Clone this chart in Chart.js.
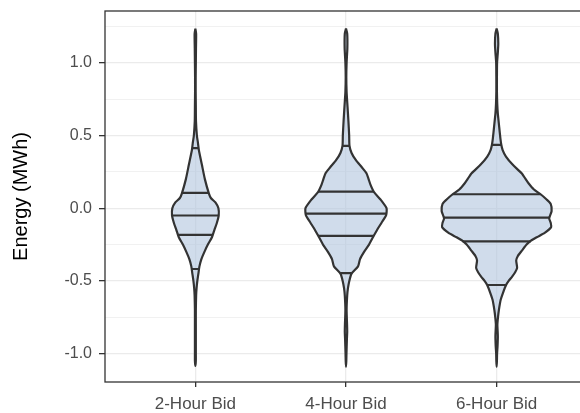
<!DOCTYPE html>
<html>
<head>
<meta charset="utf-8">
<script src="https://cdn.jsdelivr.net/npm/chart.js@4.4.1/dist/chart.umd.min.js"></script>
<style>
  html, body { margin: 0; padding: 0; background: #fff; overflow: hidden; }
  #wrap { width: 590px; height: 413px; }
</style>
</head>
<body>
<div id="wrap"><canvas id="chart"></canvas></div>
<script>
// --- data ---
const categories = ['2-Hour Bid', '4-Hour Bid', '6-Hour Bid'];
const yTicks = [-1, -0.75, -0.5, -0.25, 0, 0.25, 0.5, 0.75, 1, 1.25];

// violin outlines: energy level (MWh) and half width (in category units)
const levels2h = [1.235, 1.2, 1.1, 1.0, 0.9, 0.8, 0.7, 0.6, 0.5, 0.45, 0.4, 0.3, 0.2, 0.1, 0.07, 0.04, 0.0, -0.05, -0.1, -0.15,
  -0.2, -0.25, -0.3, -0.35, -0.4, -0.45, -0.5, -0.55, -0.6, -0.7, -0.8, -0.9, -1.0, -1.05, -1.085];
const widths2h = [0, .005, .004, .003, .002, .002, .003, .004, .010, .017, .023, .043, .063, .090, .103, .133, .153, .155, .143, .126,
  .110, .083, .060, .040, .027, .020, .013, .008, .005, .003, .003, .003, .003, .003, 0];

const levels4h = [1.235, 1.2, 1.1, 1.0, 0.9, 0.8, 0.7, 0.6, 0.5, 0.43, 0.38, 0.33, 0.28, 0.24, 0.2, 0.16, 0.11, 0.06, 0.0, -0.05,
  -0.1, -0.15, -0.2, -0.25, -0.3, -0.35, -0.4, -0.45, -0.5, -0.55, -0.6, -0.7, -0.8, -0.85, -0.9, -1.0, -1.05, -1.09];
const widths4h = [0, .008, .009, .004, .002, .004, .010, .016, .021, .023, .037, .066, .106, .136, .150, .163, .186, .229, .269, .266,
  .236, .206, .179, .153, .120, .093, .080, .037, .022, .013, .008, .004, .007, .008, .006, .003, .002, 0];

const levels6h = [1.235, 1.2, 1.13, 1.07, 1.0, 0.9, 0.8, 0.72, 0.65, 0.56, 0.48, 0.436, 0.4, 0.355, 0.3, 0.24, 0.2, 0.17, 0.13, 0.096,
  0.06, 0.03, -0.02, -0.07, -0.1, -0.13, -0.17, -0.2, -0.225, -0.25, -0.29, -0.33, -0.36, -0.41, -0.44, -0.47, -0.5, -0.53, -0.58, -0.63,
  -0.7, -0.75, -0.8, -0.88, -0.95, -1.0, -1.05, -1.09];
const widths6h = [0, .008, .011, .008, .003, .002, .002, .004, .008, .017, .025, .031, .040, .062, .106, .166, .193, .213, .246, .292,
  .332, .359, .365, .349, .359, .362, .319, .266, .226, .199, .169, .140, .130, .136, .123, .103, .080, .062, .043, .027,
  .015, .009, .005, .008, .006, .003, .002, 0];

// quantile lines (95%, 75%, 50%, 25%, 5%) and their half widths
const quant2h = [0.413, 0.105, -0.05, -0.184, -0.418];
const quantW2h = [.020, .086, .153, .113, .023];
const quant4h = [0.429, 0.114, -0.037, -0.19, -0.447];
const quantW4h = [.023, .186, .269, .186, .038];
const quant6h = [0.436, 0.096, -0.065, -0.228, -0.528];
const quantW6h = [.031, .292, .349, .226, .062];

// --- build chart datasets ---
function outline(center, levels, widths) {
  const pts = levels.map((v, i) => ({ x: center - widths[i], y: v }));
  for (let i = levels.length - 2; i >= 0; i--) pts.push({ x: center + widths[i], y: levels[i] });
  return pts;
}
function quantLines(center, qs, ws) {
  const pts = [];
  qs.forEach((q, i) => {
    pts.push({ x: center - ws[i], y: q }, { x: center + ws[i], y: q }, { x: center, y: null });
  });
  return pts;
}

const violins = [
  [levels2h, widths2h, quant2h, quantW2h],
  [levels4h, widths4h, quant4h, quantW4h],
  [levels6h, widths6h, quant6h, quantW6h]
];

const datasets = [];
violins.forEach((v, k) => {
  datasets.push({
    data: quantLines(k + 1, v[2], v[3]),
    showLine: true, borderColor: '#333333', borderWidth: 2.2,
    pointRadius: 0, fill: false, tension: 0
  });
});
violins.forEach((v, k) => {
  datasets.push({
    data: outline(k + 1, v[0], v[1]),
    showLine: true, borderColor: '#333333', borderWidth: 2.2,
    backgroundColor: 'rgba(176, 196, 222, 0.6)',
    pointRadius: 0, fill: 'shape', tension: 0.2
  });
});

const isMajor = v => Math.abs(v * 2 - Math.round(v * 2)) < 1e-6;

const panelBorder = {
  id: 'panelBorder',
  afterDatasetsDraw(chart) {
    const { ctx, chartArea: a } = chart;
    ctx.save();
    ctx.strokeStyle = '#333333';
    ctx.lineWidth = 1.3;
    ctx.strokeRect(a.left, a.top, a.right - a.left, a.bottom - a.top);
    ctx.restore();
  }
};

Chart.defaults.font.family = '"Liberation Sans", Arial, sans-serif';

new Chart(document.getElementById('chart'), {
  type: 'scatter',
  data: { datasets },
  plugins: [panelBorder],
  options: {
    responsive: true,
    maintainAspectRatio: false,
    animation: false,
    layout: { padding: { top: 11, right: 3, left: 0, bottom: 0 } },
    plugins: { legend: { display: false }, tooltip: { enabled: false } },
    scales: {
      x: {
        type: 'linear', min: 0.4, max: 3.6,
        afterBuildTicks: s => { s.ticks = categories.map((c, i) => ({ value: i + 1 })); },
        afterFit: s => { s.height = 31; s.paddingLeft = 0; s.paddingRight = 0; },
        border: { display: false },
        grid: { color: '#ebebeb', lineWidth: 1.3, tickColor: '#333333', tickLength: 5, tickWidth: 1.3 },
        ticks: {
          color: '#4d4d4d', font: { size: 17 }, padding: 7, maxRotation: 0,
          callback: v => categories[Math.round(v) - 1]
        }
      },
      y: {
        min: -1.195, max: 1.356,
        afterBuildTicks: s => { s.ticks = yTicks.map(v => ({ value: v })); },
        afterFit: s => { s.width = 105; s.paddingTop = 0; s.paddingBottom = 0; },
        border: { display: false },
        grid: {
          color: '#ebebeb',
          lineWidth: c => isMajor(c.tick.value) ? 1.3 : 0.7,
          tickColor: c => isMajor(c.tick.value) ? '#333333' : 'rgba(0,0,0,0)',
          tickLength: 6, tickWidth: 1.3
        },
        ticks: {
          color: '#4d4d4d', font: { size: 16 }, padding: 7,
          callback: v => isMajor(v) ? v.toFixed(1) : ''
        },
        title: {
          display: true, text: 'Energy (MWh)', color: '#000000',
          font: { size: 20 }, padding: { top: 9, bottom: 0 }
        }
      }
    }
  }
});
</script>
</body>
</html>
